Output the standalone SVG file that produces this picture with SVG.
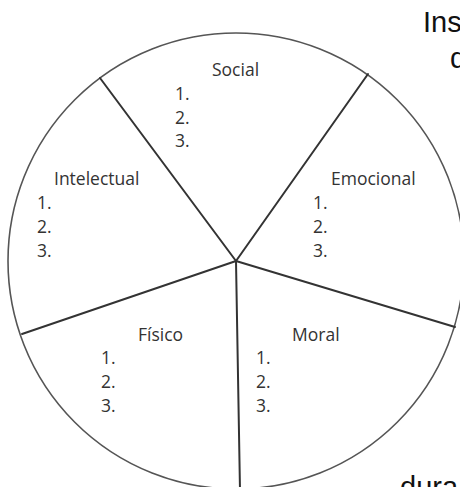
<svg xmlns="http://www.w3.org/2000/svg" width="460" height="487" viewBox="0 0 460 487">
  <style>
    .lbl { font-family: "Open Sans", "Noto Sans", sans-serif; font-size: 17.5px; fill: #333; }
    .out { font-family: "Liberation Sans", Arial, sans-serif; font-size: 29px; fill: #111; }
    .rim { fill: #fff; stroke: #555; stroke-width: 1.6; }
    .spoke { stroke: #333; stroke-width: 2; fill: none; stroke-linecap: round; }
  </style>
  <rect width="460" height="487" fill="#fff"/>
  <circle id="wheel" class="rim" cx="236" cy="261" r="228"/>
  <g id="connectors">
    <line class="spoke" x1="236" y1="261" x2="100" y2="78"/>
    <line class="spoke" x1="236" y1="261" x2="368" y2="74"/>
    <line class="spoke" x1="236" y1="261" x2="22" y2="334"/>
    <line class="spoke" x1="236" y1="261" x2="455" y2="327"/>
    <line class="spoke" x1="236" y1="261" x2="240" y2="490"/>
  </g>
  <g id="social">
    <text class="lbl" x="212" y="76">Social</text>
    <text class="lbl" x="175" y="100">1.</text>
    <text class="lbl" x="175" y="124">2.</text>
    <text class="lbl" x="175" y="147">3.</text>
  </g>
  <g id="intelectual">
    <text class="lbl" x="54" y="185">Intelectual</text>
    <text class="lbl" x="37" y="209">1.</text>
    <text class="lbl" x="37" y="233">2.</text>
    <text class="lbl" x="37" y="257">3.</text>
  </g>
  <g id="emocional">
    <text class="lbl" x="331" y="185">Emocional</text>
    <text class="lbl" x="313" y="209">1.</text>
    <text class="lbl" x="313" y="233">2.</text>
    <text class="lbl" x="313" y="257">3.</text>
  </g>
  <g id="fisico">
    <text class="lbl" x="138" y="341">Físico</text>
    <text class="lbl" x="101" y="364">1.</text>
    <text class="lbl" x="101" y="388">2.</text>
    <text class="lbl" x="101" y="412">3.</text>
  </g>
  <g id="moral">
    <text class="lbl" x="292" y="341">Moral</text>
    <text class="lbl" x="256" y="364">1.</text>
    <text class="lbl" x="256" y="388">2.</text>
    <text class="lbl" x="256" y="412">3.</text>
  </g>
  <g id="page-text">
    <text class="out" x="423" y="32">Ins</text>
    <text class="out" x="450" y="68">d</text>
    <text class="out" x="400" y="497">dura</text>
  </g>
</svg>
